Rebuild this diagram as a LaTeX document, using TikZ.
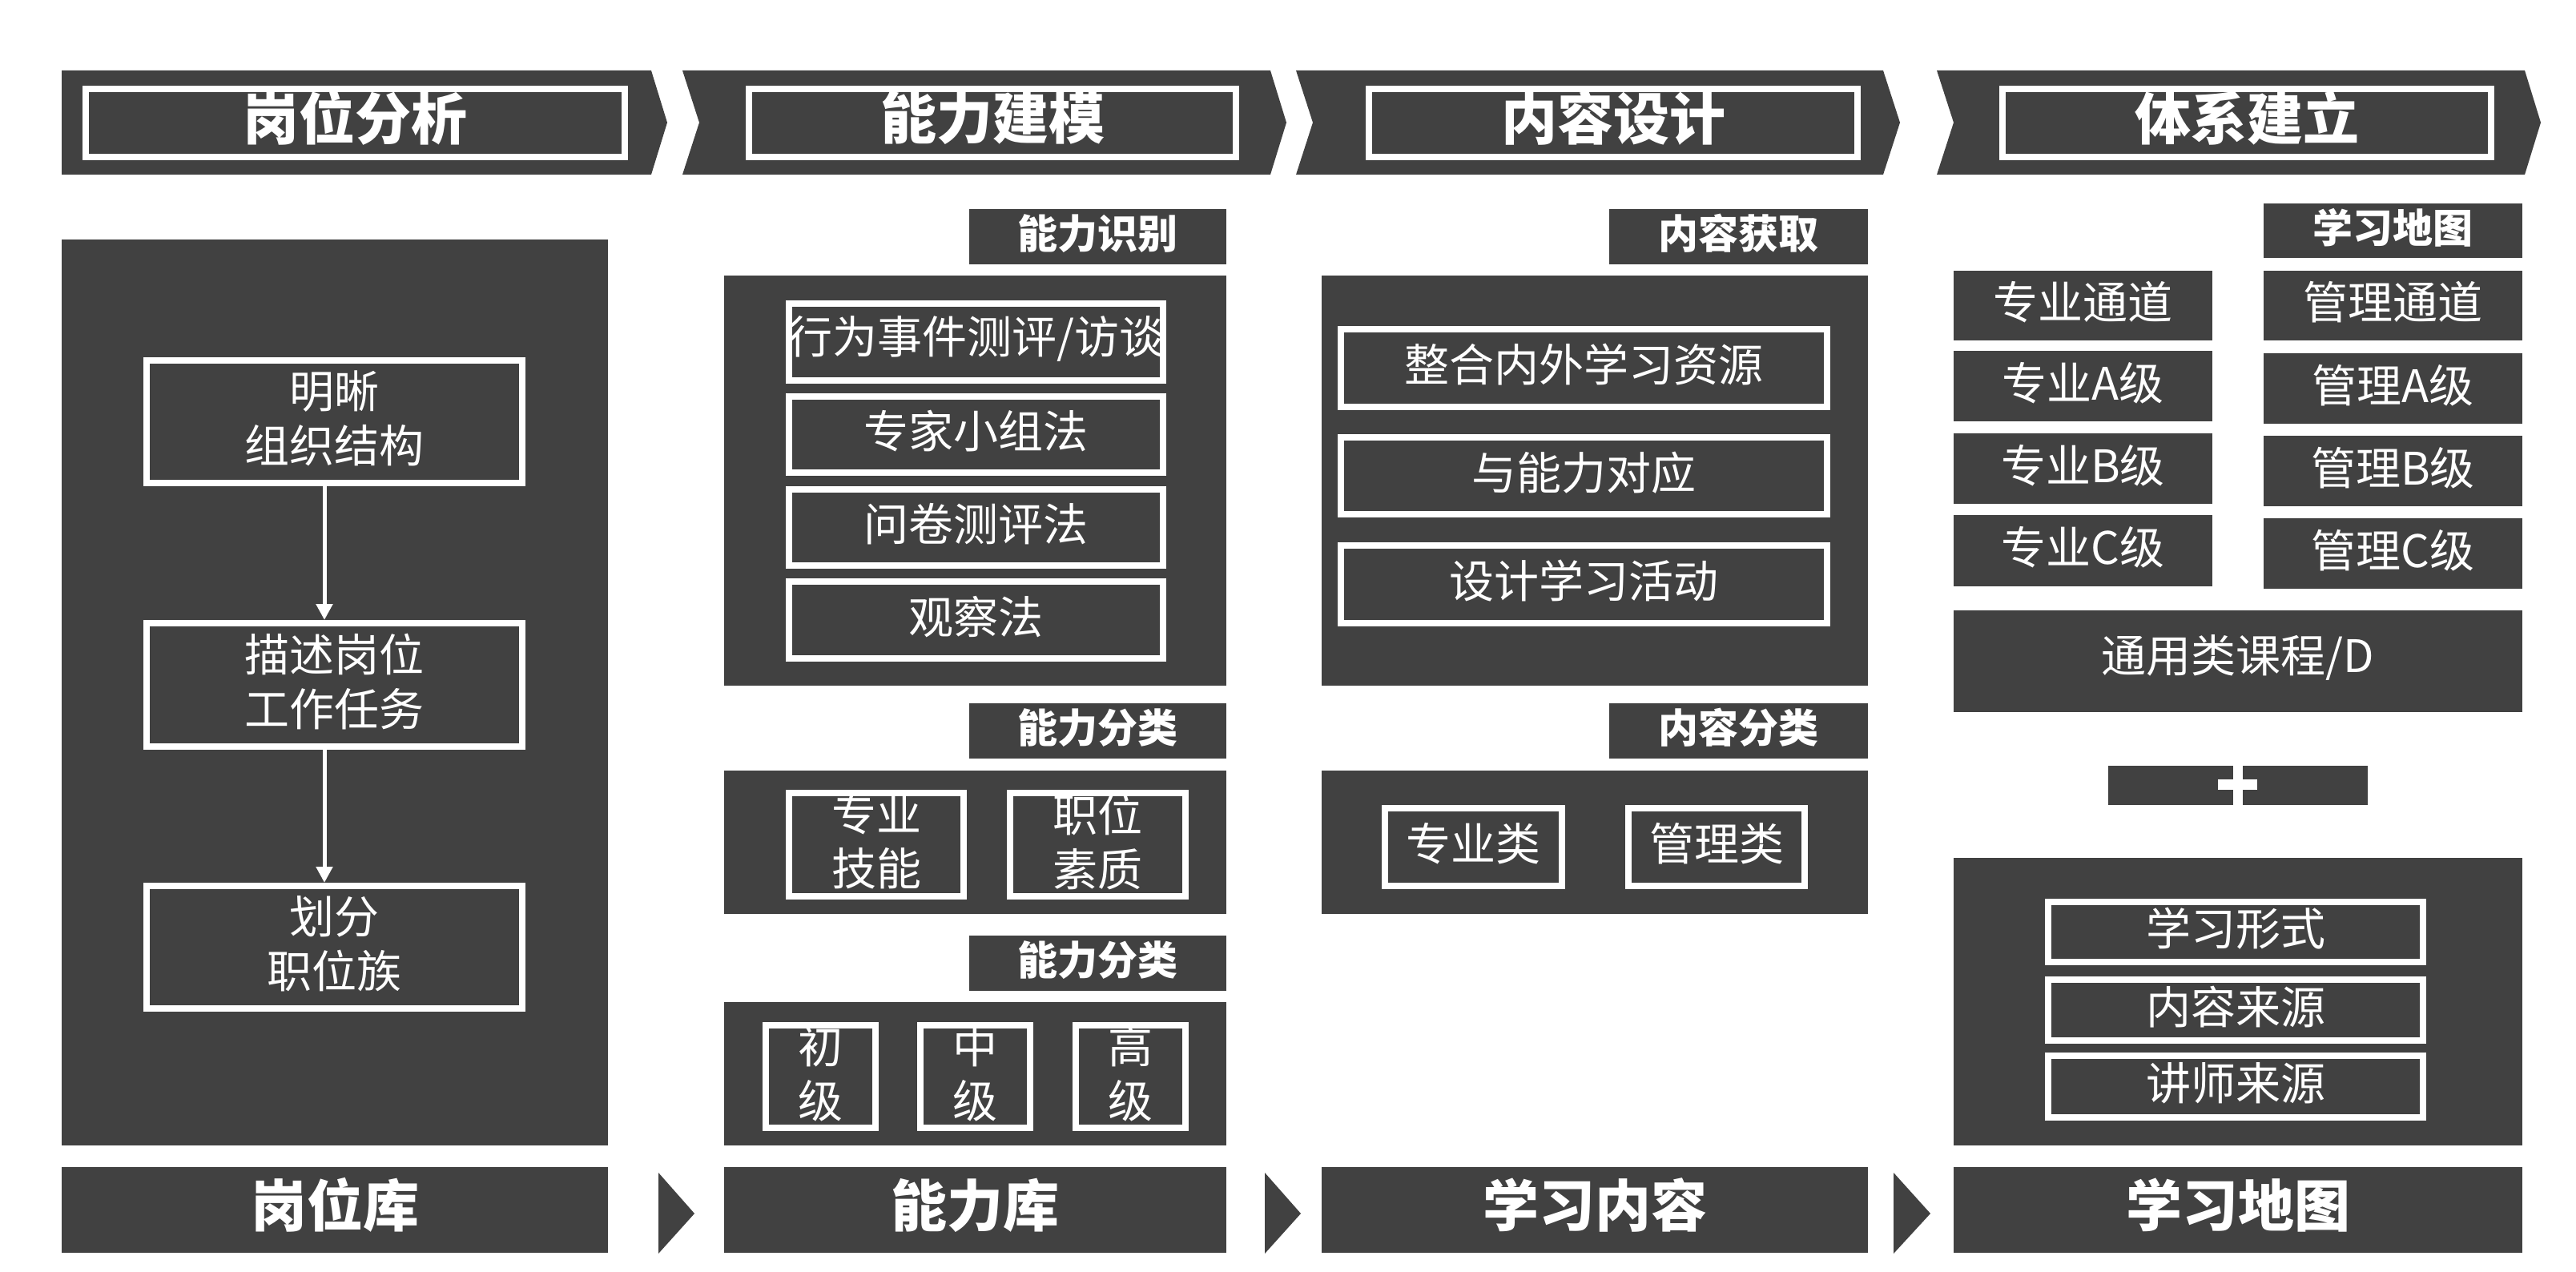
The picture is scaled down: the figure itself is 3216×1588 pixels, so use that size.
\documentclass[tikz,border=0pt]{standalone}
\usepackage{fontspec}
\setmainfont{Noto Sans CJK SC}
\usetikzlibrary{arrows.meta}
\definecolor{dk}{RGB}{65,65,65}
\tikzset{tshift/.store in=\tshiftval, tshift=2pt}
% dark box from outer coordinates
\newcommand\dbx[7]{%
  \pgfmathsetmacro\cxx{(#3+#5)/2}%
  \pgfmathsetmacro\cyy{(#4+#6)/2}%
  \pgfmathsetmacro\www{(#5-#3)/2}%
  \pgfmathsetmacro\hhh{(#6-#4)/2}%
  \node[#1,minimum width=\www pt,minimum height=\hhh pt] (#2) at (\cxx,\cyy) {};
  \node[#1,txt,yshift=\tshiftval] (#2-t) at (#2.center) {#7};}
% white-bordered box from outer coordinates (border 8px)
\newcommand\wbx[7]{%
  \pgfmathsetmacro\cxx{(#3+#5)/2}%
  \pgfmathsetmacro\cyy{(#4+#6)/2}%
  \pgfmathsetmacro\www{(#5-#3-8)/2}%
  \pgfmathsetmacro\hhh{(#6-#4-8)/2}%
  \node[#1,minimum width=\www pt,minimum height=\hhh pt] (#2) at (\cxx,\cyy) {};
  \node[#1,txt,yshift=\tshiftval] (#2-t) at (#2.center) {#7};}
\begin{document}
\begin{tikzpicture}[x=0.5pt,y=-0.5pt,
  txt/.style={draw=none,fill=none,minimum width=0pt,minimum height=0pt},
  dark/.style={fill=dk,draw=none,inner sep=0pt,outer sep=0pt,text=white,align=center},
  wb/.style={fill=dk,draw=white,line width=4pt,inner sep=0pt,outer sep=0pt,text=white,align=center,font=\fontsize{28}{34}\selectfont,tshift=2pt},
  ttl/.style={wb,font=\bfseries\fontsize{35}{40}\selectfont,tshift=3pt},
  bot/.style={dark,font=\bfseries\fontsize{35}{40}\selectfont,tshift=3pt},
  lbl/.style={dark,font=\bfseries\fontsize{25}{30}\selectfont,tshift=2pt},
  reg/.style={dark,font=\fontsize{28}{34}\selectfont,tshift=2pt},
  arr/.style={draw=white,line width=2.5pt,-{Triangle[width=10pt,length=10pt]}},
  ]
\useasboundingbox[fill=white] (0,0) rectangle (3216,1588);

% ---- top banners ----
\fill[dk] (77,88) -- (813,88) -- (833,153) -- (813,218) -- (77,218) -- cycle;
\fill[dk] (852,88) -- (1586,88) -- (1606,153) -- (1586,218) -- (852,218) -- (873,153) -- cycle;
\fill[dk] (1618,88) -- (2351,88) -- (2372,153) -- (2351,218) -- (1618,218) -- (1639,153) -- cycle;
\fill[dk] (2418,88) -- (3152,88) -- (3172,153) -- (3152,218) -- (2418,218) -- (2439,153) -- cycle;
\wbx{ttl}{t1}{103}{107}{784}{200}{岗位分析}
\wbx{ttl}{t2}{931}{107}{1547}{200}{能力建模}
\wbx{ttl}{t3}{1705}{107}{2323}{200}{内容设计}
\wbx{ttl}{t4}{2496}{107}{3114}{200}{体系建立}

% ---- column 1 ----
\dbx{dark}{c1}{77}{299}{759}{1430}{}
\wbx{wb}{a1}{179}{446}{656}{607}{明晰\\组织结构}
\wbx{wb}{a2}{179}{774}{656}{936}{描述岗位\\工作任务}
\wbx{wb}{a3}{179}{1102}{656}{1263}{划分\\职位族}
\draw[arr] ([xshift=-6.25pt]a1.south) -- ([xshift=-6.25pt,yshift=2pt]a2.north);
\draw[arr] ([xshift=-6.25pt]a2.south) -- ([xshift=-6.25pt,yshift=2pt]a3.north);

% ---- column 2 ----
\dbx{lbl}{l21}{1210}{261}{1531}{330}{能力识别}
\dbx{dark}{c21}{904}{344}{1531}{856}{}
\wbx{wb}{m1}{981}{375}{1456}{479}{行为事件测评/访谈}
\wbx{wb}{m2}{981}{491}{1456}{594}{专家小组法}
\wbx{wb}{m3}{981}{607}{1456}{710}{问卷测评法}
\wbx{wb}{m4}{981}{722}{1456}{826}{观察法}
\dbx{lbl}{l22}{1210}{878}{1531}{947}{能力分类}
\dbx{dark}{c22}{904}{962}{1531}{1141}{}
\wbx{wb}{n1}{981}{986}{1207}{1123}{专业\\技能}
\wbx{wb}{n2}{1257}{986}{1484}{1123}{职位\\素质}
\dbx{lbl}{l23}{1210}{1168}{1531}{1237}{能力分类}
\dbx{dark}{c23}{904}{1251}{1531}{1430}{}
\wbx{wb}{g1}{952}{1276}{1097}{1412}{初\\级}
\wbx{wb}{g2}{1145}{1276}{1290}{1412}{中\\级}
\wbx{wb}{g3}{1339}{1276}{1484}{1412}{高\\级}

% ---- column 3 ----
\dbx{lbl}{l31}{2009}{261}{2332}{330}{内容获取}
\dbx{dark}{c31}{1650}{344}{2332}{856}{}
\wbx{wb}{k1}{1670}{407}{2285}{512}{整合内外学习资源}
\wbx{wb}{k2}{1670}{542}{2285}{646}{与能力对应}
\wbx{wb}{k3}{1670}{677}{2285}{782}{设计学习活动}
\dbx{lbl}{l32}{2009}{878}{2332}{947}{内容分类}
\dbx{dark}{c32}{1650}{962}{2332}{1141}{}
\wbx{wb}{p1}{1725}{1005}{1954}{1110}{专业类}
\wbx{wb}{p2}{2029}{1005}{2257}{1110}{管理类}

% ---- column 4 ----
\dbx{lbl}{l41}{2826}{254}{3149}{322}{学习地图}
\dbx{reg}{s1}{2439}{338}{2762}{425}{专业通道}
\dbx{reg}{s2}{2439}{438}{2762}{526}{专业A级}
\dbx{reg}{s3}{2439}{541}{2762}{629}{专业B级}
\dbx{reg}{s4}{2439}{643}{2762}{732}{专业C级}
\dbx{reg}{r1}{2826}{338}{3149}{425}{管理通道}
\dbx{reg}{r2}{2826}{441}{3149}{529}{管理A级}
\dbx{reg}{r3}{2826}{544}{3149}{632}{管理B级}
\dbx{reg}{r4}{2826}{647}{3149}{735}{管理C级}
\dbx{reg}{gen}{2439}{762}{3149}{889}{通用类课程/D}
\dbx{dark}{plus}{2632}{956}{2956}{1005}{}
\fill[white] (2788,956) rectangle (2800,1005);
\fill[white] (2769,973) rectangle (2818,986);
\dbx{dark}{c41}{2439}{1071}{3149}{1430}{}
\wbx{wb}{q1}{2553}{1122}{3029}{1205}{学习形式}
\wbx{wb}{q2}{2553}{1219}{3029}{1303}{内容来源}
\wbx{wb}{q3}{2553}{1314}{3029}{1399}{讲师来源}

% ---- bottom row ----
\dbx{bot}{L1}{77}{1457}{759}{1564}{岗位库}
\dbx{bot}{L2}{904}{1457}{1531}{1564}{能力库}
\dbx{bot}{L3}{1650}{1457}{2332}{1564}{学习内容}
\dbx{bot}{L4}{2439}{1457}{3149}{1564}{学习地图}
\fill[dk] (822,1464) -- (867,1515) -- (822,1565) -- cycle;
\fill[dk] (1579,1464) -- (1624,1515) -- (1579,1565) -- cycle;
\fill[dk] (2364,1464) -- (2410,1515) -- (2364,1565) -- cycle;
\end{tikzpicture}
\end{document}
